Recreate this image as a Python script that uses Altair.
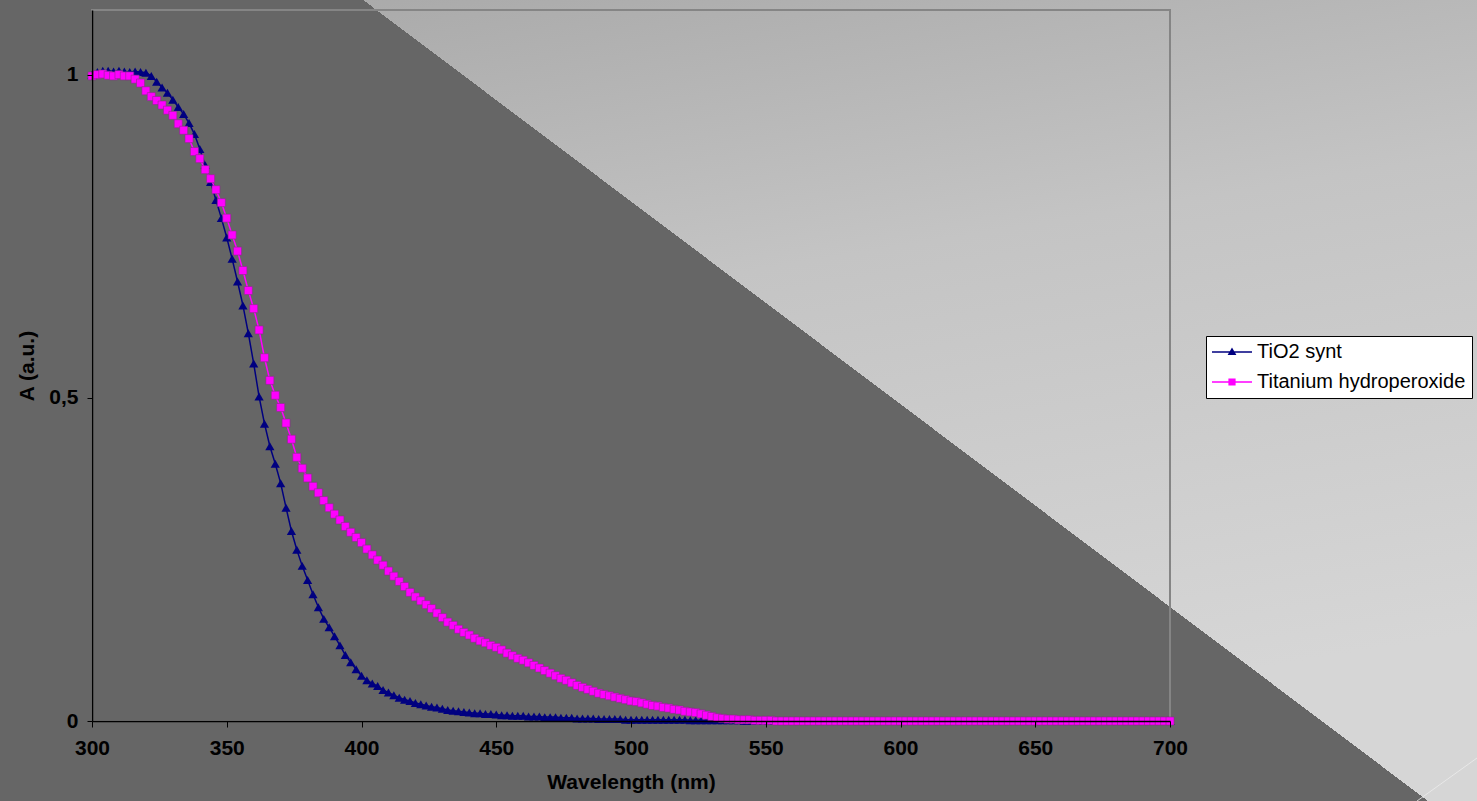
import altair as alt
import pandas as pd

# ---------------- data (every 2 nm) ----------------
wavelength = list(range(300, 701, 2))

tio2_synt = [
    1.000, 1.004, 1.006, 1.006, 1.005, 1.006, 1.005, 1.004, 1.005, 1.004,  # 300-318
    1.003, 0.998, 0.989, 0.980, 0.972, 0.961, 0.950, 0.939, 0.925, 0.908,  # 320-338
    0.885, 0.860, 0.834, 0.806, 0.778, 0.748, 0.715, 0.680, 0.643, 0.600,  # 340-358
    0.553, 0.502, 0.460, 0.425, 0.398, 0.368, 0.330, 0.294, 0.265, 0.240,  # 360-378
    0.218, 0.196, 0.176, 0.158, 0.145, 0.131, 0.117, 0.102, 0.091, 0.080,  # 380-398
    0.070, 0.063, 0.058, 0.054, 0.048, 0.044, 0.040, 0.036, 0.033, 0.031,  # 400-418
    0.028, 0.026, 0.024, 0.022, 0.021, 0.019, 0.017, 0.016, 0.015, 0.014,  # 420-438
    0.013, 0.012, 0.012, 0.011, 0.011, 0.010, 0.009, 0.009, 0.008, 0.008,  # 440-458
    0.008, 0.007, 0.007, 0.007, 0.006, 0.006, 0.006, 0.005, 0.005, 0.005,  # 460-478
    0.004, 0.004, 0.004, 0.004, 0.003, 0.003, 0.003, 0.003, 0.003, 0.002,  # 480-498
    0.002, 0.002, 0.002, 0.002, 0.002, 0.002, 0.002, 0.002, 0.002, 0.002,  # 500-518
    0.002, 0.001, 0.001, 0.001, 0.001, 0.001, 0.001, 0.001, 0.001, 0.001,  # 520-538
    0.001, 0.000, 0.000, 0.000, 0.000, 0.000, 0.000, 0.000, 0.000, 0.000,  # 540-558
    0.000, 0.000, 0.000, 0.000, 0.000, 0.000, 0.000, 0.000, 0.000, 0.000,  # 560-578
    0.000, 0.000, 0.000, 0.000, 0.000, 0.000, 0.000, 0.000, 0.000, 0.000,  # 580-598
    0.000, 0.000, 0.000, 0.000, 0.000, 0.000, 0.000, 0.000, 0.000, 0.000,  # 600-618
    0.000, 0.000, 0.000, 0.000, 0.000, 0.000, 0.000, 0.000, 0.000, 0.000,  # 620-638
    0.000, 0.000, 0.000, 0.000, 0.000, 0.000, 0.000, 0.000, 0.000, 0.000,  # 640-658
    0.000, 0.000, 0.000, 0.000, 0.000, 0.000, 0.000, 0.000, 0.000, 0.000,  # 660-678
    0.000, 0.000, 0.000, 0.000, 0.000, 0.000, 0.000, 0.000, 0.000, 0.000,  # 680-698
    0.000,                                                                # 700
]

titanium_hydroperoxide = [
    0.998, 1.000, 1.001, 0.999, 0.998, 1.000, 0.998, 0.998, 0.993, 0.987,  # 300-318
    0.975, 0.966, 0.960, 0.953, 0.945, 0.937, 0.924, 0.914, 0.901, 0.881,  # 320-338
    0.870, 0.853, 0.839, 0.822, 0.802, 0.778, 0.752, 0.727, 0.697, 0.666,  # 340-358
    0.638, 0.605, 0.562, 0.527, 0.504, 0.485, 0.461, 0.436, 0.408, 0.391,  # 360-378
    0.376, 0.363, 0.353, 0.341, 0.330, 0.320, 0.311, 0.301, 0.292, 0.284,  # 380-398
    0.276, 0.266, 0.257, 0.249, 0.241, 0.232, 0.224, 0.216, 0.208, 0.199,  # 400-418
    0.192, 0.186, 0.180, 0.174, 0.167, 0.160, 0.153, 0.148, 0.142, 0.137,  # 420-438
    0.133, 0.128, 0.124, 0.121, 0.117, 0.114, 0.110, 0.105, 0.101, 0.097,  # 440-458
    0.094, 0.090, 0.086, 0.082, 0.078, 0.074, 0.070, 0.066, 0.063, 0.059,  # 460-478
    0.055, 0.052, 0.049, 0.046, 0.043, 0.041, 0.039, 0.037, 0.035, 0.033,  # 480-498
    0.031, 0.030, 0.028, 0.026, 0.024, 0.023, 0.021, 0.020, 0.018, 0.017,  # 500-518
    0.015, 0.014, 0.013, 0.011, 0.009, 0.007, 0.005, 0.004, 0.003, 0.003,  # 520-538
    0.002, 0.002, 0.002, 0.001, 0.001, 0.001, 0.001, 0.000, 0.000, 0.000,  # 540-558
    0.000, 0.000, 0.000, 0.000, 0.000, 0.000, 0.000, 0.000, 0.000, 0.000,  # 560-578
    0.000, 0.000, 0.000, 0.000, 0.000, 0.000, 0.000, 0.000, 0.000, 0.000,  # 580-598
    0.000, 0.000, 0.000, 0.000, 0.000, 0.000, 0.000, 0.000, 0.000, 0.000,  # 600-618
    0.000, 0.000, 0.000, 0.000, 0.000, 0.000, 0.000, 0.000, 0.000, 0.000,  # 620-638
    0.000, 0.000, 0.000, 0.000, 0.000, 0.000, 0.000, 0.000, 0.000, 0.000,  # 640-658
    0.000, 0.000, 0.000, 0.000, 0.000, 0.000, 0.000, 0.000, 0.000, 0.000,  # 660-678
    0.000, 0.000, 0.000, 0.000, 0.000, 0.000, 0.000, 0.000, 0.000, 0.000,  # 680-698
    0.000,                                                                # 700
]

series_names = ["TiO2 synt", "Titanium hydroperoxide"]
series_colors = ["#000080", "#FF00FF"]
# legend glyphs: a short line with the series marker on it (unit coordinates,
# drawn a little above the nominal symbol centre so they line up with the labels)
legend_glyphs = [
    "M-1,-0.535H1V-0.465H-1ZM0,-0.72L0.22,-0.35L-0.22,-0.35Z",
    "M-1,-0.535H1V-0.465H-1ZM-0.18,-0.68H0.18V-0.32H-0.18Z",
]
x_ticks = [300, 350, 400, 450, 500, 550, 600, 650, 700]
y_ticks = [0, 0.5, 1]

rows = []
for w, a in zip(wavelength, tio2_synt):
    rows.append({"wavelength": w, "A": a, "series": series_names[0]})
for w, a in zip(wavelength, titanium_hydroperoxide):
    rows.append({"wavelength": w, "A": a, "series": series_names[1]})
df = pd.DataFrame(rows)
legend_df = pd.DataFrame({"series": series_names, "wavelength": [300, 300], "A": [0, 0]})

FONT = "Liberation Sans"
W, H = 1078, 711
PAD_L, PAD_T, PAD_R, PAD_B = 92, 10, 307, 80

x_enc = alt.X("wavelength:Q", scale=alt.Scale(domain=[300, 700], nice=False, zero=False),
              axis=alt.Axis(title="Wavelength (nm)", values=x_ticks, grid=False,
                            labelFlush=False, labelOverlap=False,
                            domainColor="black", domainWidth=1.5, tickColor="black",
                            tickSize=6, tickWidth=1, labelFont=FONT, labelFontSize=21,
                            labelFontWeight="bold", labelColor="black", labelPadding=10,
                            titleFont=FONT, titleFontSize=21, titleFontWeight="bold",
                            titleColor="black", titlePadding=13, zindex=1))
y_enc = alt.Y("A:Q", scale=alt.Scale(domain=[0, 1.1], nice=False),
              axis=alt.Axis(title="A (a.u.)", values=y_ticks, grid=False,
                            labelFlush=False, labelOverlap=False,
                            labelExpr="replace(format(datum.value, '~g'), '.', ',')",
                            domainColor="black", domainWidth=1.5, tickColor="black",
                            tickSize=5, tickWidth=1, labelFont=FONT, labelFontSize=21,
                            labelFontWeight="bold", labelColor="black", labelPadding=9,
                            titleFont=FONT, titleFontSize=21, titleFontWeight="bold",
                            titleColor="black", titlePadding=11, zindex=1))

one = alt.Data(values=[{"k": 1}])

# light background with a gradient, covering the whole picture
bg_light = alt.Chart(one).mark_rect(
    fill=alt.Gradient(gradient="linear",
                      stops=[alt.GradientStop(color="#a6a6a6", offset=0),
                             alt.GradientStop(color="#c4c4c4", offset=0.45),
                             alt.GradientStop(color="#d6d6d6", offset=1)],
                      x1=0, y1=0, x2=0.3, y2=1)
).encode(x=alt.value(-PAD_L), x2=alt.value(W + PAD_R),
         y=alt.value(-PAD_T), y2=alt.value(H + PAD_B))

# dark lower-left triangle (hard-edged diagonal gradient)
edge = 0.5618
bg_dark = alt.Chart(one).mark_rect(
    fill=alt.Gradient(gradient="linear",
                      stops=[alt.GradientStop(color="#666666", offset=0),
                             alt.GradientStop(color="#666666", offset=edge),
                             alt.GradientStop(color="rgba(102,102,102,0)", offset=edge),
                             alt.GradientStop(color="rgba(102,102,102,0)", offset=1)],
                      x1=0, y1=1, x2=1.1324, y2=0.1836)
).encode(x=alt.value(-PAD_L), x2=alt.value(W + PAD_R),
         y=alt.value(-PAD_T), y2=alt.value(H + PAD_B))

# faint light streak in the bottom-right corner
streak = alt.Chart(one).mark_rule(color="#ececec", strokeWidth=1, opacity=0.8).encode(
    x=alt.value(1325), y=alt.value(H + PAD_B), x2=alt.value(W + PAD_R), y2=alt.value(748))

border = alt.Chart(one).mark_rect(fillOpacity=0, stroke="#858585", strokeWidth=2).encode(
    x=alt.value(0), x2=alt.value(W), y=alt.value(0), y2=alt.value(H))

def line_layer(name, color):
    return alt.Chart(df).transform_filter(alt.datum.series == name).mark_line(
        strokeWidth=1.5, color=color).encode(x=x_enc, y=y_enc)

line_blue = line_layer(series_names[0], series_colors[0])
line_pink = line_layer(series_names[1], series_colors[1])

pts_blue = alt.Chart(df).transform_filter(
    alt.datum.series == series_names[0]
).mark_point(shape="triangle-up", filled=True, size=85, color="#000080", opacity=1).encode(
    x="wavelength:Q", y="A:Q")

pts_pink = alt.Chart(df).transform_filter(
    alt.datum.series == series_names[1]
).mark_point(shape="square", filled=True, size=64, fill="#FF00FF", stroke="#8a2f8a",
             strokeWidth=0.6, opacity=1).encode(
    x="wavelength:Q", y="A:Q")

leg = alt.Legend(title=None, orient="none", legendX=1114, legendY=326,
                 fillColor="white", strokeColor="black", padding=6,
                 labelFont=FONT, labelFontSize=20, labelColor="black",
                 labelBaseline="bottom",
                 labelOffset=5, symbolSize=1600, symbolStrokeWidth=0,
                 symbolOpacity=1, rowPadding=10, labelLimit=400)

legend_layer = alt.Chart(legend_df).mark_point(filled=True, size=0, opacity=1).encode(
    x="wavelength:Q", y="A:Q",
    color=alt.Color("series:N", scale=alt.Scale(domain=series_names, range=series_colors),
                    legend=leg),
    shape=alt.Shape("series:N", scale=alt.Scale(domain=series_names, range=legend_glyphs),
                    legend=leg),
)

chart = alt.layer(bg_light, bg_dark, streak, border, line_blue, pts_blue, line_pink,
                  pts_pink, legend_layer).properties(
    width=W, height=H,
    autosize=alt.AutoSizeParams(type="none"),
    padding={"left": PAD_L, "top": PAD_T, "right": PAD_R, "bottom": PAD_B},
    background="#666666",
).configure_view(stroke=None)

chart.save("out.html", embed_options={"renderer": "svg", "actions": False})
